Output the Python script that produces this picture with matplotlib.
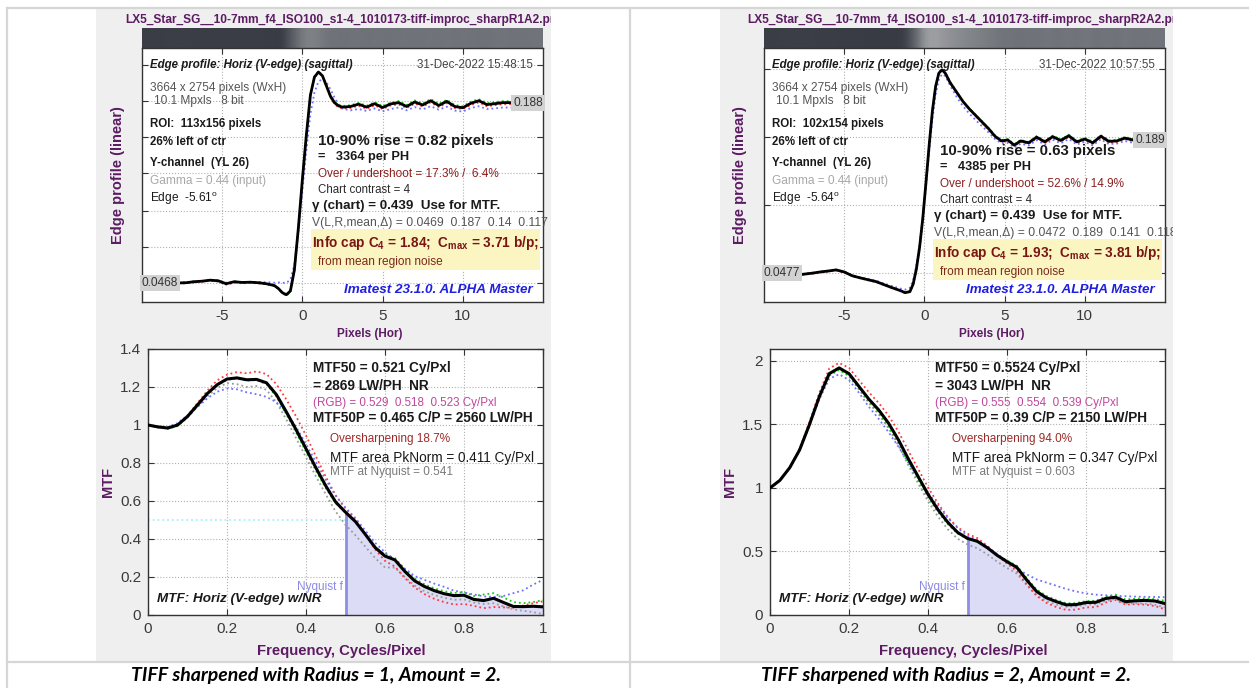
import numpy as np
import matplotlib
matplotlib.use("Agg")
import matplotlib.pyplot as plt
from matplotlib.patches import Rectangle
from matplotlib.colors import LinearSegmentedColormap
from matplotlib.transforms import Bbox, TransformedBbox

W, H = 1249, 688
FONT = "Liberation Sans"
PURPLE = "#5c1b63"
plt.rcParams["font.family"] = [FONT, "DejaVu Sans"]
plt.rcParams["mathtext.fontset"] = "custom"
plt.rcParams["mathtext.rm"] = FONT
plt.rcParams["mathtext.it"] = FONT + ":italic"
plt.rcParams["mathtext.bf"] = FONT + ":bold"

# ---------------- edge profiles ----------------
edge_x_r1 = [-7.75, -7.25, -6.75, -6.25, -5.75, -5.25, -4.75, -4.25, -3.75, -3.25,
             -2.75, -2.25, -1.75, -1.5, -1.25, -1.0, -0.75, -0.5, -0.25, 0.0,
             0.25, 0.5, 0.75, 1.0, 1.25, 1.5, 1.75, 2.0, 2.25, 2.5,
             3.0, 3.5, 4.0, 4.5, 5.0, 5.5, 6.0, 6.5, 7.0, 7.5,
             8.0, 8.5, 9.0, 9.5, 10.0, 10.5, 11.0, 11.5, 12.0, 12.5, 13.0]
edge_y_r1 = [0.0468, 0.0470, 0.0478, 0.0482, 0.0490, 0.0485, 0.0462, 0.0478, 0.0472, 0.0474,
             0.0470, 0.0462, 0.0448, 0.0425, 0.0392, 0.0376, 0.0405, 0.0570, 0.0900, 0.1280,
             0.1630, 0.1940, 0.2080, 0.2120, 0.2090, 0.2010, 0.1930, 0.1880, 0.1855, 0.1845,
             0.1850, 0.1868, 0.1845, 0.1872, 0.1842, 0.1870, 0.1880, 0.1850, 0.1885, 0.1862,
             0.1895, 0.1858, 0.1890, 0.1850, 0.1840, 0.1875, 0.1895, 0.1865, 0.1872, 0.1880, 0.1880]
edge_red_r1 = [0.0462, 0.0466, 0.0472, 0.0478, 0.0486, 0.0480, 0.0455, 0.0470, 0.0466, 0.0468,
               0.0465, 0.0458, 0.0446, 0.0422, 0.0390, 0.0375, 0.0402, 0.0565, 0.0895, 0.1275,
               0.1625, 0.1935, 0.2078, 0.2118, 0.2088, 0.2005, 0.1922, 0.1870, 0.1845, 0.1835,
               0.1838, 0.1855, 0.1832, 0.1860, 0.1830, 0.1858, 0.1866, 0.1838, 0.1872, 0.1850,
               0.1882, 0.1845, 0.1876, 0.1838, 0.1830, 0.1862, 0.1882, 0.1852, 0.1860, 0.1868, 0.1868]
edge_green_r1 = [0.0470, 0.0472, 0.0480, 0.0484, 0.0492, 0.0487, 0.0464, 0.0480, 0.0474, 0.0476,
                 0.0472, 0.0463, 0.0448, 0.0422, 0.0386, 0.0368, 0.0398, 0.0568, 0.0902, 0.1284,
                 0.1636, 0.1946, 0.2086, 0.2126, 0.2096, 0.2016, 0.1936, 0.1888, 0.1864, 0.1854,
                 0.1860, 0.1878, 0.1856, 0.1884, 0.1852, 0.1880, 0.1892, 0.1862, 0.1898, 0.1874,
                 0.1908, 0.1870, 0.1902, 0.1862, 0.1852, 0.1888, 0.1908, 0.1878, 0.1884, 0.1892, 0.1892]
edge_blue_r1 = [0.0470, 0.0473, 0.0480, 0.0484, 0.0490, 0.0487, 0.0470, 0.0478, 0.0475, 0.0477,
                0.0476, 0.0474, 0.0470, 0.0472, 0.0470, 0.0468, 0.0495, 0.0610, 0.0870, 0.1190,
                0.1510, 0.1790, 0.1960, 0.2045, 0.2065, 0.2040, 0.1985, 0.1920, 0.1865, 0.1832,
                0.1820, 0.1830, 0.1815, 0.1835, 0.1812, 0.1830, 0.1842, 0.1820, 0.1845, 0.1828,
                0.1852, 0.1825, 0.1848, 0.1818, 0.1810, 0.1838, 0.1852, 0.1830, 0.1835, 0.1842, 0.1842]

edge_x_r2 = [-7.6, -7.0, -6.5, -6.0, -5.5, -5.0, -4.5, -4.0, -3.5, -3.0,
             -2.5, -2.0, -1.5, -1.2, -0.9, -0.7, -0.5, -0.3, -0.1, 0.1,
             0.3, 0.5, 0.7, 0.9, 1.1, 1.3, 1.6, 2.0, 2.4, 2.8,
             3.2, 3.6, 4.0, 4.4, 4.8, 5.2, 5.6, 6.0, 6.5, 7.0,
             7.5, 8.0, 8.5, 9.0, 9.5, 10.0, 10.5, 11.0, 11.5, 12.0, 12.5, 13.0]
edge_y_r2 = [0.0463, 0.0475, 0.0488, 0.0498, 0.0510, 0.0488, 0.0448, 0.0425, 0.0405, 0.0385,
             0.0352, 0.0320, 0.0290, 0.0268, 0.0280, 0.0360, 0.0520, 0.0750, 0.1060, 0.1440,
             0.1840, 0.2200, 0.2460, 0.2600, 0.2635, 0.2600, 0.2500, 0.2400, 0.2300, 0.2220,
             0.2150, 0.2080, 0.2010, 0.1930, 0.1880, 0.1890, 0.1835, 0.1880, 0.1860, 0.1920,
             0.1870, 0.1925, 0.1885, 0.1935, 0.1870, 0.1900, 0.1860, 0.1930, 0.1875, 0.1880, 0.1910, 0.1890]
edge_red_r2 = [0.0458, 0.0470, 0.0482, 0.0492, 0.0504, 0.0482, 0.0442, 0.0420, 0.0400, 0.0380,
               0.0348, 0.0316, 0.0287, 0.0266, 0.0278, 0.0356, 0.0515, 0.0745, 0.1055, 0.1438,
               0.1840, 0.2205, 0.2468, 0.2610, 0.2645, 0.2610, 0.2508, 0.2405, 0.2300, 0.2215,
               0.2142, 0.2070, 0.2000, 0.1920, 0.1870, 0.1878, 0.1825, 0.1868, 0.1848, 0.1908,
               0.1858, 0.1912, 0.1872, 0.1922, 0.1858, 0.1888, 0.1848, 0.1918, 0.1862, 0.1868, 0.1898, 0.1878]
edge_green_r2 = [0.0466, 0.0478, 0.0491, 0.0501, 0.0513, 0.0491, 0.0451, 0.0428, 0.0408, 0.0388,
                 0.0355, 0.0322, 0.0290, 0.0262, 0.0274, 0.0356, 0.0520, 0.0752, 0.1064, 0.1446,
                 0.1846, 0.2204, 0.2462, 0.2600, 0.2632, 0.2596, 0.2498, 0.2400, 0.2302, 0.2224,
                 0.2156, 0.2088, 0.2018, 0.1940, 0.1890, 0.1900, 0.1846, 0.1890, 0.1870, 0.1932,
                 0.1882, 0.1936, 0.1896, 0.1946, 0.1882, 0.1912, 0.1872, 0.1942, 0.1886, 0.1892, 0.1922, 0.1902]
edge_blue_r2 = [0.0466, 0.0478, 0.0490, 0.0500, 0.0510, 0.0490, 0.0452, 0.0430, 0.0412, 0.0394,
                0.0365, 0.0338, 0.0312, 0.0300, 0.0320, 0.0400, 0.0555, 0.0770, 0.1050, 0.1400,
                0.1770, 0.2110, 0.2370, 0.2530, 0.2590, 0.2570, 0.2470, 0.2350, 0.2250, 0.2170,
                0.2100, 0.2035, 0.1970, 0.1900, 0.1855, 0.1860, 0.1810, 0.1850, 0.1832, 0.1888,
                0.1842, 0.1892, 0.1855, 0.1900, 0.1842, 0.1870, 0.1832, 0.1898, 0.1846, 0.1852, 0.1880, 0.1860]

edge_lo = [0.0468, 0.0477]          # left level labels
edge_hi = [0.188, 0.189]            # right level labels
edge_ylim = [(0.0319, 0.2308), (0.0169, 0.2867)]
edge_yticks = [[0.0468, 0.0750, 0.1032, 0.1329, 0.1611, 0.1893, 0.2175],
               [0.0477, 0.1199, 0.1921, 0.2644]]

# ---------------- MTF curves ----------------
mtf_f = [0.000, 0.025, 0.050, 0.075, 0.100, 0.125, 0.150, 0.175, 0.200, 0.225,
         0.250, 0.275, 0.300, 0.325, 0.350, 0.375, 0.400, 0.425, 0.450, 0.475,
         0.500, 0.525, 0.550, 0.575, 0.600, 0.625, 0.650, 0.675, 0.700, 0.725,
         0.750, 0.775, 0.800, 0.825, 0.850, 0.875, 0.900, 0.925, 0.950, 0.975, 1.000]

mtf_y_r1 = [1.000, 0.990, 0.984, 1.000, 1.045, 1.105, 1.165, 1.212, 1.242, 1.248,
            1.238, 1.240, 1.222, 1.160, 1.070, 0.975, 0.875, 0.775, 0.680, 0.595,
            0.541, 0.492, 0.425, 0.355, 0.310, 0.290, 0.230, 0.180, 0.150, 0.128,
            0.112, 0.102, 0.104, 0.082, 0.076, 0.088, 0.066, 0.045, 0.044, 0.046, 0.043]
mtf_red_r1 = [1.000, 0.988, 0.982, 1.000, 1.050, 1.115, 1.180, 1.235, 1.265, 1.278,
              1.272, 1.282, 1.268, 1.215, 1.135, 1.045, 0.945, 0.835, 0.728, 0.630,
              0.560, 0.505, 0.425, 0.345, 0.285, 0.255, 0.195, 0.145, 0.110, 0.085,
              0.068, 0.055, 0.058, 0.048, 0.036, 0.042, 0.040, 0.038, 0.050, 0.062, 0.072]
mtf_green_r1 = [1.000, 0.988, 0.980, 0.995, 1.040, 1.100, 1.160, 1.208, 1.238, 1.244,
                1.234, 1.236, 1.215, 1.150, 1.058, 0.960, 0.860, 0.760, 0.668, 0.588,
                0.538, 0.492, 0.428, 0.360, 0.318, 0.300, 0.242, 0.192, 0.162, 0.140,
                0.125, 0.116, 0.120, 0.100, 0.108, 0.115, 0.092, 0.068, 0.062, 0.068, 0.078]
mtf_blue_r1 = [1.000, 0.992, 0.990, 1.010, 1.050, 1.095, 1.140, 1.175, 1.192, 1.188,
               1.172, 1.162, 1.148, 1.120, 1.065, 0.990, 0.900, 0.805, 0.712, 0.628,
               0.565, 0.510, 0.445, 0.380, 0.330, 0.290, 0.245, 0.205, 0.185, 0.165,
               0.148, 0.128, 0.118, 0.108, 0.098, 0.095, 0.100, 0.115, 0.130, 0.160, 0.185]
mtf_grey_r1 = [1.000, 0.990, 0.985, 1.000, 1.040, 1.095, 1.150, 1.195, 1.220, 1.215,
               1.200, 1.205, 1.185, 1.120, 1.030, 0.930, 0.830, 0.730, 0.635, 0.545,
               0.475, 0.420, 0.360, 0.300, 0.250, 0.250, 0.200, 0.155, 0.125, 0.105,
               0.090, 0.080, 0.082, 0.065, 0.058, 0.062, 0.045, 0.030, 0.022, 0.015, 0.005]

mtf_y_r2 = [1.000, 1.060, 1.160, 1.300, 1.500, 1.720, 1.900, 1.945, 1.900, 1.800,
            1.700, 1.615, 1.510, 1.380, 1.230, 1.090, 0.950, 0.830, 0.730, 0.650,
            0.603, 0.580, 0.530, 0.470, 0.420, 0.375, 0.275, 0.185, 0.135, 0.105,
            0.080, 0.082, 0.098, 0.100, 0.130, 0.140, 0.105, 0.112, 0.115, 0.110, 0.090]
mtf_red_r2 = [1.000, 1.058, 1.160, 1.310, 1.520, 1.750, 1.940, 1.985, 1.945, 1.850,
              1.755, 1.670, 1.570, 1.445, 1.295, 1.150, 1.005, 0.880, 0.770, 0.690,
              0.640, 0.605, 0.545, 0.470, 0.405, 0.345, 0.240, 0.150, 0.095, 0.062,
              0.040, 0.042, 0.060, 0.062, 0.098, 0.118, 0.082, 0.085, 0.082, 0.070, 0.045]
mtf_green_r2 = [1.000, 1.060, 1.160, 1.300, 1.495, 1.710, 1.885, 1.930, 1.885, 1.785,
                1.680, 1.592, 1.485, 1.352, 1.200, 1.060, 0.925, 0.810, 0.715, 0.640,
                0.598, 0.578, 0.532, 0.475, 0.428, 0.388, 0.290, 0.200, 0.150, 0.118,
                0.092, 0.094, 0.110, 0.112, 0.145, 0.160, 0.122, 0.128, 0.130, 0.125, 0.112]
mtf_blue_r2 = [1.000, 1.060, 1.160, 1.300, 1.495, 1.700, 1.860, 1.895, 1.850, 1.750,
               1.640, 1.545, 1.440, 1.325, 1.200, 1.080, 0.965, 0.860, 0.765, 0.685,
               0.625, 0.590, 0.540, 0.480, 0.420, 0.365, 0.320, 0.280, 0.255, 0.230,
               0.205, 0.185, 0.170, 0.160, 0.155, 0.150, 0.148, 0.145, 0.143, 0.142, 0.140]
mtf_grey_r2 = [1.000, 1.058, 1.158, 1.298, 1.495, 1.712, 1.890, 1.930, 1.880, 1.775,
               1.670, 1.580, 1.470, 1.335, 1.180, 1.035, 0.895, 0.775, 0.675, 0.600,
               0.555, 0.525, 0.478, 0.420, 0.370, 0.325, 0.235, 0.155, 0.110, 0.082,
               0.065, 0.068, 0.082, 0.085, 0.112, 0.125, 0.090, 0.092, 0.090, 0.080, 0.060]

mtf_ylim = [1.4, 2.094]
mtf_yticks = [[0, 0.2, 0.4, 0.6, 0.8, 1.0, 1.2, 1.4], [0, 0.5, 1.0, 1.5, 2.0]]
mtf50 = [0.521, 0.5524]

# ---------------- texts ----------------
file_names = ["LX5_Star_SG__10-7mm_f4_ISO100_s1-4_1010173-tiff-improc_sharpR1A2.pr",
              "LX5_Star_SG__10-7mm_f4_ISO100_s1-4_1010173-tiff-improc_sharpR2A2.pr"]
dates = ["31-Dec-2022 15:48:15", "31-Dec-2022 10:57:55"]
rois = ["ROI:  113x156 pixels", "ROI:  102x154 pixels"]
edge_angles = [r"Edge  -5.61$^\mathrm{o}$", r"Edge  -5.64$^\mathrm{o}$"]
rises = ["10-90% rise = 0.82 pixels", "10-90% rise = 0.63 pixels"]
per_ph = ["=   3364 per PH", "=   4385 per PH"]
overs = ["Over / undershoot = 17.3% /  6.4%", "Over / undershoot = 52.6% / 14.9%"]
vlines_txt = ["V(L,R,mean,\u0394) = 0.0469  0.187  0.14  0.117",
              "V(L,R,mean,\u0394) = 0.0472  0.189  0.141  0.118"]
infocap = [r"Info cap C$_\mathbf{4}$ = 1.84;  C$_\mathbf{max}$ = 3.71 b/p;",
           r"Info cap C$_\mathbf{4}$ = 1.93;  C$_\mathbf{max}$ = 3.81 b/p;"]
mtf50_txt = ["MTF50 = 0.521 Cy/Pxl", "MTF50 = 0.5524 Cy/Pxl"]
lwph_txt = ["= 2869 LW/PH  NR", "= 3043 LW/PH  NR"]
rgb_txt = ["(RGB) = 0.529  0.518  0.523 Cy/Pxl", "(RGB) = 0.555  0.554  0.539 Cy/Pxl"]
mtf50p_txt = ["MTF50P = 0.465 C/P = 2560 LW/PH", "MTF50P = 0.39 C/P = 2150 LW/PH"]
oversharp = ["Oversharpening 18.7%", "Oversharpening 94.0%"]
area_txt = ["MTF area PkNorm = 0.411 Cy/Pxl", "MTF area PkNorm = 0.347 Cy/Pxl"]
nyq_txt = ["MTF at Nyquist = 0.541", "MTF at Nyquist = 0.603"]
captions = ["TIFF sharpened with Radius = 1, Amount = 2.",
            "TIFF sharpened with Radius = 2, Amount = 2."]

edges = [(edge_x_r1, edge_y_r1, edge_red_r1, edge_green_r1, edge_blue_r1),
         (edge_x_r2, edge_y_r2, edge_red_r2, edge_green_r2, edge_blue_r2)]
mtfs = [(mtf_y_r1, mtf_red_r1, mtf_green_r1, mtf_blue_r1, mtf_grey_r1),
        (mtf_y_r2, mtf_red_r2, mtf_green_r2, mtf_blue_r2, mtf_grey_r2)]

fig = plt.figure(figsize=(W / 100, H / 100), dpi=100)
fig.patch.set_facecolor("white")


def px_axes(x0, y0, x1, y1):
    return fig.add_axes([x0 / W, 1 - y1 / H, (x1 - x0) / W, (y1 - y0) / H])


def ftext(x, y, s, clip=None, **kw):
    kw.setdefault("va", "center")
    t = fig.text(x / W, 1 - y / H, s, **kw)
    if clip is not None:
        t.set_clip_box(clip)
        t.set_clip_on(True)
    return t


def style_axes(ax):
    for sp in ax.spines.values():
        sp.set_color("#333333")
        sp.set_linewidth(1.0)
    ax.tick_params(direction="in", top=True, right=True, length=4, width=0.8,
                   colors="#333333", labelsize=11, labelcolor="#3a3a3a", pad=5)
    ax.grid(True, ls=":", color="#b0b0b0", lw=0.8)
    ax.set_axisbelow(True)


bar_cmap = LinearSegmentedColormap.from_list(
    "edgebar", [(0.0, "#383b43"), (0.12, "#3c3f47"), (0.68, "#6f7278"), (1.0, "#9b9da1")])

# table borders
for (xa, ya, xb, yb) in [(7, 8, W, 8), (7, 662, W, 662), (7, 8, 7, H), (630, 8, 630, H)]:
    fig.add_artist(plt.Line2D([xa / W, xb / W], [1 - ya / H, 1 - yb / H],
                              transform=fig.transFigure, color="#d6d6d6", lw=1.6, zorder=-4))

panel_x = [(96, 551), (720, 1173)]
for i in range(2):
    dx = 0 if i == 0 else 622
    dy = 0 if i == 0 else 10
    gx0, gx1 = panel_x[i]
    fig.add_artist(Rectangle((gx0 / W, 1 - 662 / H), (gx1 - gx0) / W, (662 - 8) / H,
                             transform=fig.transFigure, facecolor="#efefef",
                             edgecolor="none", zorder=-5))
    clip = TransformedBbox(Bbox.from_extents(gx0 / W, 1 - 662 / H, gx1 / W, 1 - 8 / H),
                           fig.transFigure)

    ftext(125 + dx, 20, file_names[i], clip=clip, fontsize=8.6, fontweight="bold", color=PURPLE)

    ex, ey, er, eg, eb = edges[i]
    # grey edge image strip
    bax = px_axes(142 + dx, 28, 543 + dx, 48)
    bax.pcolormesh(np.vstack([ex, ex]), np.vstack([np.zeros(len(ex)), np.ones(len(ex))]),
                   np.vstack([ey, ey]), shading="gouraud", cmap=bar_cmap,
                   vmin=0.03, vmax=0.26)
    bax.set_xlim(ex[0], ex[-1])
    bax.set_ylim(0, 1)
    bax.axis("off")

    # edge profile
    ax = px_axes(142 + dx, 48, 543 + dx, 302)
    style_axes(ax)
    ax.plot(ex, er, ":", color="#ff3a3a", lw=1.3)
    ax.plot(ex, eg, ":", color="#1fc41f", lw=1.3)
    ax.plot(ex, eb, ":", color="#6f6fff", lw=1.3)
    ax.plot(ex, ey, "-", color="black", lw=2.0)
    ax.set_xlim(-10, 15)
    ax.set_ylim(*edge_ylim[i])
    ax.set_xticks([-5, 0, 5, 10])
    ax.set_xticklabels(["-5", "0", "5", "10"])
    ax.set_yticks(edge_yticks[i])
    ax.set_yticklabels([])
    ax.text(-10, edge_lo[i], f"{edge_lo[i]:.4f}", ha="left", va="center", fontsize=8.6,
            color="#333333", bbox=dict(facecolor="#d2d2d2", edgecolor="none", pad=1.5))
    ax.text(15, edge_hi[i], f"{edge_hi[i]:.3f}", ha="right", va="center", fontsize=8.6,
            color="#333333", bbox=dict(facecolor="#d2d2d2", edgecolor="none", pad=1.5))

    ftext(118 + dx, 175, "Edge profile (linear)", rotation=90, ha="center",
          fontsize=10.5, fontweight="bold", color=PURPLE)
    ftext(370 + dx, 334, "Pixels (Hor)", ha="center", fontsize=8.5, fontweight="bold", color=PURPLE)

    ftext(150 + dx, 65, "Edge profile: Horiz (V-edge) (sagittal)", fontsize=8.3,
          fontweight="bold", style="italic", color="#1a1a1a")
    ftext(533 + dx, 65, dates[i], ha="right", fontsize=8.4, color="#444444")
    ftext(150 + dx, 88, "3664 x 2754 pixels (WxH)", fontsize=8.6, color="#555555")
    ftext(154 + dx, 101, "10.1 Mpxls   8 bit", fontsize=8.6, color="#555555")
    ftext(150 + dx, 124, rois[i], fontsize=8.3, fontweight="bold", color="#1a1a1a")
    ftext(150 + dx, 142, "26% left of ctr", fontsize=8.3, fontweight="bold", color="#1a1a1a")
    ftext(150 + dx, 163, "Y-channel  (YL 26)", fontsize=8.3, fontweight="bold", color="#1a1a1a")
    ftext(150 + dx, 181, "Gamma = 0.44 (input)", fontsize=8.6, color="#a8a8a8")
    ftext(150 + dx, 199, edge_angles[i], fontsize=8.6, color="#1a1a1a")

    ftext(318 + dx, 141 + dy, rises[i], fontsize=10.8, fontweight="bold", color="#1a1a1a")
    ftext(318 + dx, 157 + dy, per_ph[i], fontsize=9.2, fontweight="bold", color="#1a1a1a")
    ftext(318 + dx, 174 + dy, overs[i], fontsize=8.5, color="#8b1f1f")
    ftext(318 + dx, 190 + dy, "Chart contrast = 4", fontsize=8.3, color="#2a2a2a")
    ftext(312 + dx, 206 + dy, "\u03b3 (chart) = 0.439  Use for MTF.", fontsize=9.6,
          fontweight="bold", color="#1a1a1a")
    ftext(312 + dx, 223 + dy, vlines_txt[i], clip=clip, fontsize=8.7, color="#555555")
    fig.add_artist(Rectangle(((311 + dx) / W, 1 - (270 + dy) / H), 229 / W, 41 / H,
                             transform=fig.transFigure, facecolor="#fbf5c2",
                             edgecolor="none", zorder=2))
    ftext(312 + dx, 243 + dy, infocap[i], fontsize=9.8, fontweight="bold", color="#7a1515", zorder=4)
    ftext(318 + dx, 262 + dy, "from mean region noise", fontsize=8.6, color="#7a2a1a", zorder=4)
    ftext(533 + dx, 290, "Imatest 23.1.0. ALPHA Master", ha="right", fontsize=9.7,
          fontweight="bold", style="italic", color="#1f1fe0")

    # MTF
    my, mr, mg, mb, mgr = mtfs[i]
    max_ = px_axes(148 + dx, 349, 543 + dx, 615)
    style_axes(max_)
    f = np.array(mtf_f)
    yb = np.array(my)
    sel = f >= 0.5
    max_.fill_between(f[sel], 0, yb[sel], color="#dcdcf6", lw=0, zorder=1)
    if i == 0:
        max_.hlines(0.5, 0, mtf50[i], colors="#a6f2f2", linestyles=":", lw=1.3, zorder=2)
    max_.vlines(0.5, 0, yb[f == 0.5][0], colors="#8e8ee6", lw=2.0, zorder=2)
    max_.plot(mtf_f, mgr, ":", color="#9a9a9a", lw=1.3, zorder=3)
    max_.plot(mtf_f, mr, ":", color="#ff3a3a", lw=1.3, zorder=3)
    max_.plot(mtf_f, mg, ":", color="#1fc41f", lw=1.3, zorder=3)
    max_.plot(mtf_f, mb, ":", color="#6f6fff", lw=1.3, zorder=3)
    max_.plot(mtf_f, my, "-", color="black", lw=2.2, zorder=4)
    max_.set_xlim(0, 1)
    max_.set_ylim(0, mtf_ylim[i])
    max_.set_xticks([0, 0.2, 0.4, 0.6, 0.8, 1.0])
    max_.set_xticklabels(["0", "0.2", "0.4", "0.6", "0.8", "1"])
    max_.set_yticks(mtf_yticks[i])
    max_.set_yticklabels([f"{v:g}" for v in mtf_yticks[i]])

    ftext(108 + dx, 482, "MTF", rotation=90, ha="center", fontsize=10.5, fontweight="bold", color=PURPLE)
    ftext(341 + dx, 651, "Frequency, Cycles/Pixel", ha="center", fontsize=10.7,
          fontweight="bold", color=PURPLE)

    ftext(313 + dx, 368, mtf50_txt[i], fontsize=9.8, fontweight="bold", color="#1a1a1a")
    ftext(313 + dx, 386, lwph_txt[i], fontsize=9.8, fontweight="bold", color="#1a1a1a")
    ftext(313 + dx, 403, rgb_txt[i], fontsize=8.4, color="#c0479a")
    ftext(313 + dx, 418, mtf50p_txt[i], fontsize=9.8, fontweight="bold", color="#1a1a1a")
    ftext(330 + dx, 439, oversharp[i], fontsize=8.5, color="#9b2a2a")
    ftext(330 + dx, 458, area_txt[i], fontsize=9.8, color="#1a1a1a")
    ftext(330 + dx, 472, nyq_txt[i], fontsize=8.5, color="#7a7a7a")
    ftext(157 + dx, 599, "MTF: Horiz (V-edge) w/NR", fontsize=9.7, fontweight="bold",
          style="italic", color="#1a1a1a")
    ftext(343 + dx, 587, "Nyquist f", ha="right", fontsize=8.5, color="#8a8ae6")

    ftext(316 + dx + (8 if i else 0), 676, captions[i], ha="center", fontsize=14,
          fontweight="bold", style="italic", family=["Lato", "DejaVu Sans"], color="black")

fig.savefig("out.png", dpi=100)
